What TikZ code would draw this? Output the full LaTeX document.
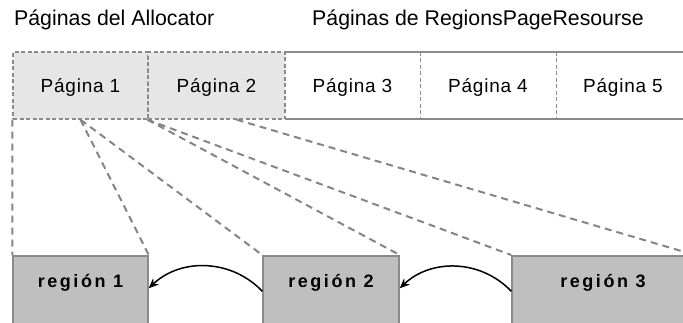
\documentclass[tikz,border=0pt]{standalone}
\usepackage{fontspec}
\setmainfont{Liberation Sans}
\usetikzlibrary{arrows.meta,calc,backgrounds}

\definecolor{edgegray}{HTML}{8A8A8A}
\definecolor{linkgray}{HTML}{858585}
\definecolor{pagefill}{HTML}{E6E6E6}
\definecolor{regfill}{HTML}{BFBFBF}

\tikzset{
  pagebox/.style={minimum width=#1, minimum height=67pt, inner sep=0pt,
    text height=13pt, text depth=0pt,
    font=\fontsize{19}{19}\selectfont\addfontfeature{LetterSpace=4}},
  allocpage/.style={pagebox=#1, fill=pagefill, draw=edgegray, line width=1.3pt,
    dash pattern=on 4pt off 2.5pt},
  freepage/.style={pagebox=#1},
  framesolid/.style={draw=edgegray, line width=1.6pt},
  sepdash/.style={draw=edgegray, line width=1.3pt, dash pattern=on 4pt off 2.5pt},
  region/.style={draw=edgegray, line width=1.5pt, fill=regfill, minimum width=#1,
    inner sep=0pt, text height=32pt, text depth=53pt, anchor=north,
    font=\fontsize{18}{18}\selectfont\bfseries\addfontfeature{LetterSpace=14}},
  link/.style={draw=linkgray, line width=2pt, dash pattern=on 7pt off 5pt},
  backarrow/.style={draw=black, line width=1.5pt, -{Stealth[length=10pt,width=8.5pt]}},
  heading/.style={anchor=base west, inner sep=0pt, font=\fontsize{21.3}{21.3}\selectfont}
}

\begin{document}
\begin{tikzpicture}[x=1pt,y=-1pt]
\useasboundingbox (0,0) rectangle (683,322);

% headings
\node[heading] (h1) at (14,25) {Páginas del Allocator};
\node[heading] (h2) at (312,25) {Páginas de RegionsPageResourse};

% page row
\node[allocpage=135pt] (p1) at (80.5,85.5) {Página 1};
\node[allocpage=137pt] (p2) at (216.5,85.5) {Página 2};
\node[freepage=135pt] (p3) at (352.5,85.5) {Página 3};
\node[freepage=136pt] (p4) at (488,85.5) {Página 4};
\node[freepage=134pt] (p5) at (623,85.5) {Página 5};

\draw[framesolid] (p3.north west) -- (p5.north east);
\draw[framesolid] (p3.south west) -- (p5.south east);
\draw[sepdash] (p3.north east) -- (p3.south east);
\draw[sepdash] (p4.north east) -- (p4.south east);

% regions
\node[region=135pt] (r1) at (80.5,255) {región 1};
\node[region=136pt] (r2) at (331,255) {región 2};
\node[region=182pt] (r3) at (603,255) {región 3};

% mapping of pages onto regions, kept under the boxes
\coordinate (p2s) at ($(p2.south west)!0.645!(p2.south east)$);
\begin{pgfonlayer}{background}
\draw[link] (p1.south west) -- (r1.north west);
\draw[link] (p1.south) -- (r1.north east);
\draw[link] (p1.south) -- (r2.north west);
\draw[link] (p2.south west) -- (r2.north east);
\draw[link] (p2.south west) -- (r3.north west);
\draw[link] (p2s) -- (r3.north east);
\end{pgfonlayer}

% links between regions
\draw[backarrow] ([yshift=7pt]r2.west) to[bend right=45] ([yshift=10pt]r1.east);
\draw[backarrow] ([yshift=7pt]r3.west) to[bend right=45] ([yshift=10pt]r2.east);
\end{tikzpicture}
\end{document}
